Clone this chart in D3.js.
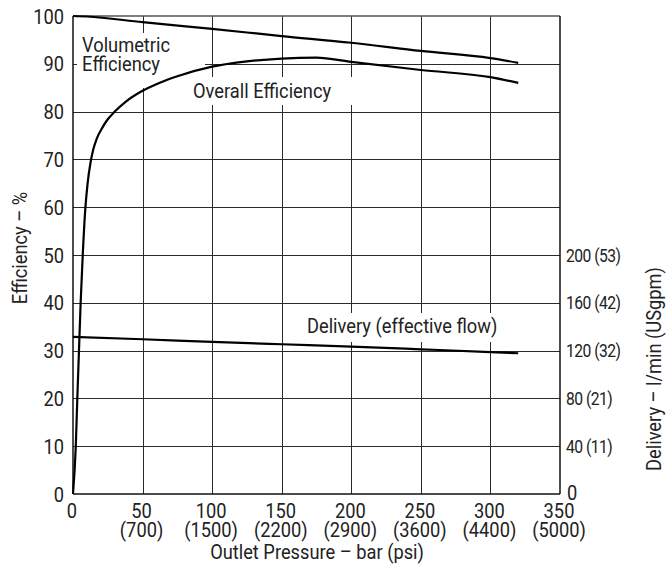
<!DOCTYPE html>
<html><head><meta charset="utf-8">
<script src="https://cdn.jsdelivr.net/npm/d3@7"></script>
<style>
html,body{margin:0;padding:0;background:#fff;}
svg text{font-family:Roboto,"Noto Sans",sans-serif;fill:#222;}
</style></head>
<body>
<svg id="chart" width="667" height="569"></svg>
<script>
// ---- data ----
const pressureTicks = [0, 50, 100, 150, 200, 250, 300, 350];
const psiLabels = ["", "(700)", "(1500)", "(2200)", "(2900)", "(3600)", "(4400)", "(5000)"];
const efficiencyTicks = [0, 10, 20, 30, 40, 50, 60, 70, 80, 90, 100];
const deliveryTicks = [0, 40, 80, 120, 160, 200];
const gpmLabels = ["", "(11)", "(21)", "(32)", "(42)", "(53)"];

const volPressure = [0, 10, 50, 100, 150, 200, 250, 300, 320];
const volEfficiency = [100, 99.9, 98.7, 97.3, 95.8, 94.4, 92.7, 91.2, 90.2];

const overallPressure = [0, 2, 3.1, 4.3, 5.5, 7, 8.8, 10.5, 12.7, 14.5, 17, 21, 25, 30, 38, 49, 62, 75, 100, 125, 150, 175, 200, 250, 300, 320];
const overallEfficiency = [0, 10, 20, 30, 40, 50, 59.5, 65, 69.5, 72, 74.3, 76.6, 78.4, 80, 82.1, 84.2, 86, 87.4, 89.4, 90.5, 91.1, 91.3, 90.4, 88.7, 87.2, 86.0];

const delPressure = [0, 50, 100, 150, 200, 250, 300, 320];
const delFlow = [131.5, 129.5, 127.3, 125.3, 123.3, 121.1, 118.8, 117.8];

// ---- layout ----
const svg = d3.select("#chart");
const x = d3.scaleLinear().domain([0, 350]).range([73, 560]);
const y = d3.scaleLinear().domain([0, 100]).range([494, 16]);
const yR = d3.scaleLinear().domain([0, 200]).range([y(0), y(50)]);
const FS = 21;
const SX = 0.87; // condensed look
const tf = (tx, ty, rot) => `translate(${tx},${ty})${rot ? ` rotate(${rot})` : ""} scale(${SX},1)`;

// grid
const grid = svg.append("g").attr("stroke", "#2a2a2a").attr("stroke-width", 1);
grid.selectAll("line.h").data(efficiencyTicks.slice(1, -1)).join("line")
  .attr("x1", x(0)).attr("x2", x(350)).attr("y1", d => Math.round(y(d)) + 0.5).attr("y2", d => Math.round(y(d)) + 0.5);
grid.selectAll("line.v").data(pressureTicks.slice(1, -1)).join("line")
  .attr("y1", y(100)).attr("y2", y(0)).attr("x1", d => Math.round(x(d)) + 0.5).attr("x2", d => Math.round(x(d)) + 0.5);

// label knockouts
svg.append("rect").attr("x", 77).attr("y", 33).attr("width", 128).attr("height", 55).attr("fill", "#fff");
svg.append("rect").attr("x", 188).attr("y", 77).attr("width", 170).attr("height", 28).attr("fill", "#fff");
svg.append("rect").attr("x", 300).attr("y", 313).attr("width", 205).attr("height", 29).attr("fill", "#fff");

// frame
svg.append("line").attr("x1", x(0)).attr("x2", x(350)).attr("y1", y(100)).attr("y2", y(100)).attr("stroke", "#555").attr("stroke-width", 1.5);
svg.append("line").attr("x1", x(0)).attr("x2", x(350)).attr("y1", y(0)).attr("y2", y(0)).attr("stroke", "#111").attr("stroke-width", 1.5);
svg.append("line").attr("x1", x(0)).attr("x2", x(0)).attr("y1", y(100)).attr("y2", y(0)).attr("stroke", "#111").attr("stroke-width", 1.5);
svg.append("line").attr("x1", x(350)).attr("x2", x(350)).attr("y1", y(100)).attr("y2", y(0)).attr("stroke", "#111").attr("stroke-width", 1.5);

// curves
const lineGen = (xs, ys, sy, curve) => d3.line().curve(curve)
  .x((d, i) => x(xs[i])).y((d, i) => sy(ys[i]))(xs);
svg.append("path").attr("d", lineGen(volPressure, volEfficiency, y, d3.curveMonotoneX))
  .attr("fill", "none").attr("stroke", "#000").attr("stroke-width", 2.2);
svg.append("path").attr("d", lineGen(overallPressure, overallEfficiency, y, d3.curveMonotoneX))
  .attr("fill", "none").attr("stroke", "#000").attr("stroke-width", 2.2);
svg.append("path").attr("d", lineGen(delPressure, delFlow, yR, d3.curveMonotoneX))
  .attr("fill", "none").attr("stroke", "#000").attr("stroke-width", 2.2);

// left axis labels
svg.append("g").selectAll("text").data(efficiencyTicks).join("text")
  .attr("transform", d => tf(64, y(d) + 7.5)).attr("text-anchor", "end")
  .attr("font-size", FS).text(d => d);

// bottom labels
const bl = svg.append("g");
bl.selectAll("text.bar").data(pressureTicks).join("text")
  .attr("transform", d => tf(x(d) - 1, 518)).attr("text-anchor", "middle").attr("font-size", FS).text(d => d);
bl.selectAll("text.psi").data(pressureTicks).join("text")
  .attr("transform", d => tf(x(d) - 1, 537)).attr("text-anchor", "middle").attr("font-size", FS)
  .text((d, i) => psiLabels[i]);

// right labels
svg.append("g").selectAll("text").data(deliveryTicks.slice(1)).join("text")
  .attr("transform", d => tf(566, yR(d) + 6.5)).attr("font-size", 18)
  .attr("letter-spacing", "-0.6").text((d, i) => d + " " + gpmLabels[i + 1]);
svg.append("text").attr("transform", tf(567, yR(0) + 6)).attr("font-size", FS).text(deliveryTicks[0]);

// axis titles
svg.append("text").attr("transform", tf(317, 559)).attr("text-anchor", "middle").attr("font-size", FS)
  .text("Outlet Pressure – bar (psi)");
svg.append("text").attr("transform", tf(27, 248, -90)).attr("text-anchor", "middle")
  .attr("font-size", FS).text("Efficiency – %");
svg.append("text").attr("transform", tf(661, 369, -90)).attr("text-anchor", "middle")
  .attr("font-size", FS).text("Delivery – l/min (USgpm)");

// curve labels
svg.append("text").attr("transform", tf(82, 52)).attr("font-size", FS).text("Volumetric");
svg.append("text").attr("transform", tf(82, 71)).attr("font-size", FS).text("Efficiency");
svg.append("text").attr("transform", tf(193, 98)).attr("font-size", FS).text("Overall Efficiency");
svg.append("text").attr("transform", tf(307, 333)).attr("font-size", FS).text("Delivery (effective flow)");
</script>
</body></html>
